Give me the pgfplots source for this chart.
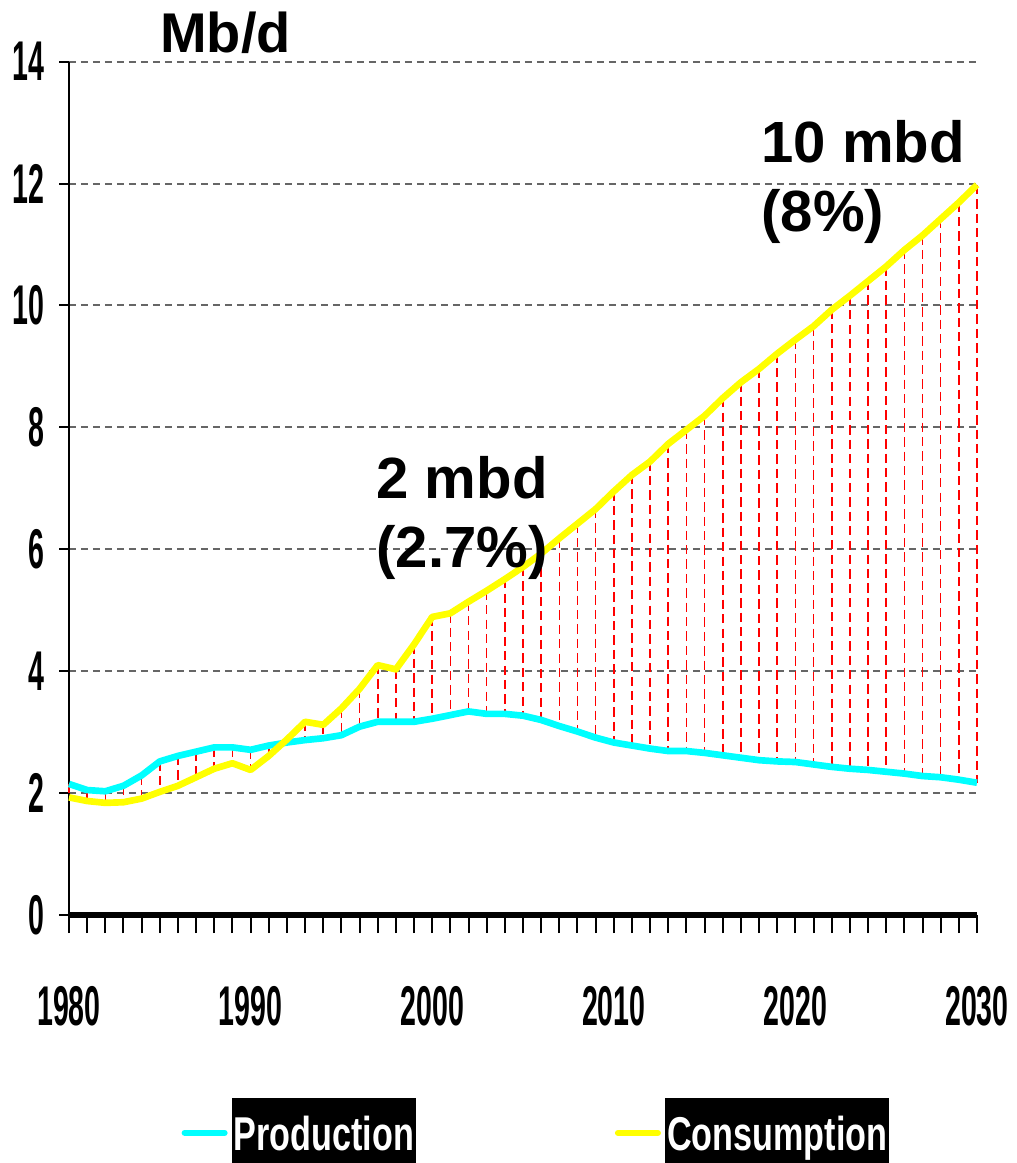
\documentclass[border=0pt]{standalone}
\usepackage{fontspec}
\setmainfont{Liberation Sans}
\newfontfamily\tickfont[FakeStretch=0.51]{Liberation Sans}
\newfontfamily\legfont[FakeStretch=0.72]{Liberation Sans}
\usepackage{pgfplots}
\usepackage{pgfplotstable}
\pgfplotsset{compat=1.18}

\definecolor{prodcol}{HTML}{00FFFF}
\definecolor{conscol}{HTML}{FFFF00}
\definecolor{gridcol}{HTML}{666666}

% Mb/d, production vs consumption
\pgfplotstableread{
year prod cons
1980 2.15 1.93
1981 2.05 1.87
1982 2.03 1.84
1983 2.12 1.85
1984 2.29 1.91
1985 2.52 2.02
1986 2.61 2.12
1987 2.68 2.26
1988 2.75 2.40
1989 2.75 2.49
1990 2.71 2.38
1991 2.78 2.61
1992 2.83 2.88
1993 2.87 3.17
1994 2.90 3.12
1995 2.95 3.39
1996 3.09 3.71
1997 3.17 4.10
1998 3.17 4.03
1999 3.17 4.44
2000 3.22 4.89
2001 3.28 4.95
2002 3.34 5.14
2003 3.30 5.32
2004 3.30 5.51
2005 3.27 5.71
2006 3.20 5.93
2007 3.10 6.18
2008 3.01 6.42
2009 2.91 6.66
2010 2.83 6.95
2011 2.78 7.22
2012 2.73 7.44
2013 2.69 7.73
2014 2.69 7.96
2015 2.66 8.19
2016 2.62 8.48
2017 2.58 8.74
2018 2.54 8.96
2019 2.52 9.21
2020 2.51 9.44
2021 2.47 9.66
2022 2.43 9.93
2023 2.40 10.16
2024 2.38 10.40
2025 2.35 10.64
2026 2.32 10.91
2027 2.28 11.15
2028 2.26 11.42
2029 2.22 11.69
2030 2.17 11.98
}\oil

\newcommand{\legbox}[1]{{\setlength{\fboxsep}{0.8pt}\colorbox{black}{\rule[-6pt]{0pt}{25pt}\textcolor{white}{\legfont\bfseries\fontsize{17.8}{20}\selectfont #1}}}}

\begin{document}
\begin{tikzpicture}
\begin{axis}[
  at={(0pt,0pt)}, anchor=south west,
  width=340.5pt, height=320pt, scale only axis,
  xmin=1980, xmax=2030, ymin=0, ymax=14,
  clip=false,
  axis x line=bottom, axis y line=left, axis line style={-},
  x axis line style={line width=1.9pt},
  y axis line style={line width=1.1pt},
  xtick={1980,1990,...,2030},
  xticklabels={1980,1990,2000,2010,2020,2030},
  minor xtick={1980,1981,...,2030},
  ytick={0,2,...,14},
  yticklabels={0,2,4,6,8,10,12,14},
  tick align=outside,
  major tick length=3.75pt, minor tick length=6.75pt,
  tick style={black, line width=0.75pt},
  major x tick style={opacity=0},
  ticklabel style={font=\tickfont\bfseries\fontsize{21}{21}\selectfont, inner sep=0pt},
  xticklabel shift=23pt, yticklabel shift=5.25pt,
  ymajorgrids,
  major grid style={gridcol, line width=0.75pt, dash pattern=on 2.6pt off 1.9pt},
  legend columns=2,
  legend style={at={(0.5138,-0.2475)}, anchor=center, draw=none, fill=none,
    /tikz/every odd column/.append style={column sep=1.5pt},
    /tikz/every even column/.append style={column sep=74.5pt},
    nodes={inner sep=0pt}},
  legend image code/.code={\draw[#1, line width=2.25pt, line cap=round] (0pt,-2.5pt) -- (15pt,-2.5pt);},
]
% high-low lines
\addplot[forget plot, draw=none, mark=none,
  error bars/.cd, y dir=minus, y explicit, error mark=none,
  error bar style={draw=red, line width=0.6pt, dash pattern=on 3.5pt off 1.9pt}]
  table[x=year, y expr={max(\thisrow{prod},\thisrow{cons})},
        y error expr={abs(\thisrow{cons}-\thisrow{prod})}] {\oil};

\addplot[prodcol, line width=2.5pt, line join=round, mark=none] table[x=year, y=prod] {\oil};
\addlegendentry{\legbox{Production}}
\addplot[conscol, line width=2.5pt, line join=round, mark=none] table[x=year, y=cons] {\oil};
\addlegendentry{\legbox{Consumption}}

\node[anchor=base west, inner sep=0pt, font=\bfseries\fontsize{21}{25}\selectfont] at (axis cs:1985.0,14.15) {Mb/d};
\node[anchor=base west, inner sep=0pt, font=\bfseries\fontsize{21.8}{25}\selectfont] at (axis cs:1996.9,6.84) {2 mbd};
\node[anchor=base west, inner sep=0pt, font=\bfseries\fontsize{21.8}{25}\selectfont] at (axis cs:1996.9,5.70) {(2.7\%)};
\node[anchor=base west, inner sep=0pt, font=\bfseries\fontsize{21.8}{25}\selectfont] at (axis cs:2018.1,12.34) {10 mbd};
\node[anchor=base west, inner sep=0pt, font=\bfseries\fontsize{21.8}{25}\selectfont] at (axis cs:2018.1,11.21) {(8\%)};
\end{axis}
\pgfresetboundingbox
\path (-25.875pt,-93pt) rectangle (355.5pt,343.125pt);
\end{tikzpicture}
\end{document}
